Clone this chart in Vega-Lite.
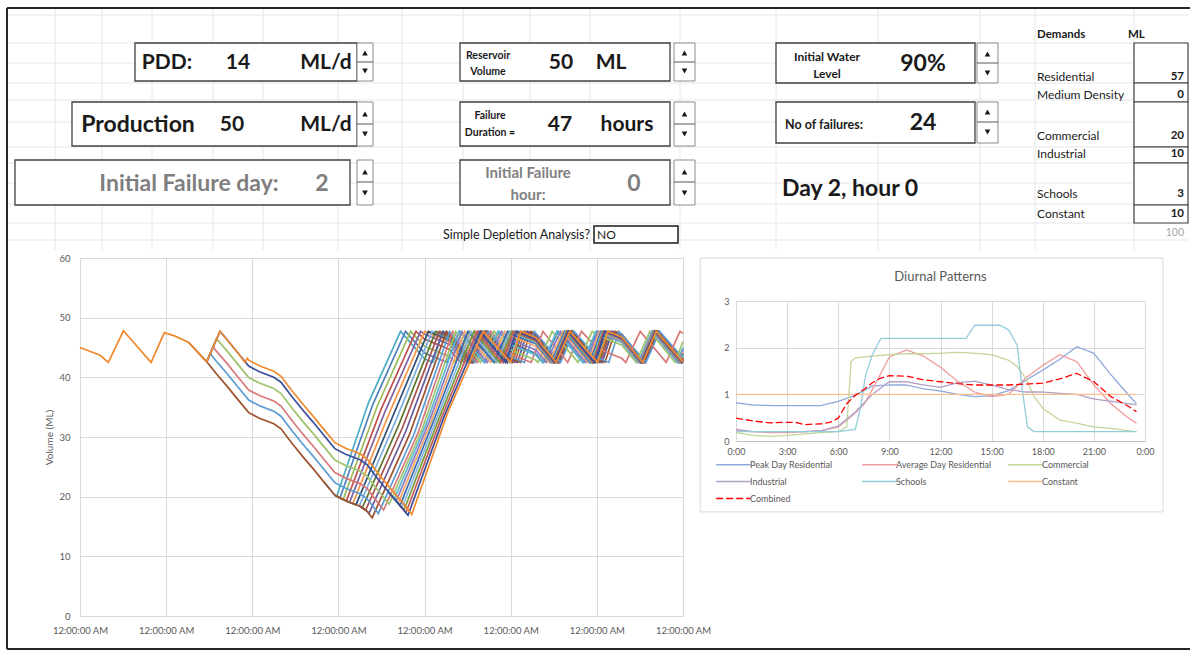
{
"$schema":"https://vega.github.io/schema/vega-lite/v6.json",
"padding":0,
"background":"white",
"spacing":0,
"bounds":"flush",
"resolve":{"scale":{"color":"independent","strokeDash":"independent","strokeWidth":"independent","shape":"independent"},"legend":{"color":"independent","strokeDash":"independent","strokeWidth":"independent","shape":"independent"}},
"config":{"font":"Lato","view":{"stroke":null}},
"datasets":{
"sheet":[{"x":8,"x2":1188,"y":15,"y2":15},{"x":8,"x2":1188,"y":43,"y2":43},{"x":8,"x2":1188,"y":63,"y2":63},{"x":8,"x2":1188,"y":83,"y2":83},{"x":8,"x2":1188,"y":100,"y2":100},{"x":8,"x2":1188,"y":122,"y2":122},{"x":8,"x2":1188,"y":147,"y2":147},{"x":8,"x2":1188,"y":163,"y2":163},{"x":8,"x2":1188,"y":183,"y2":183},{"x":8,"x2":1188,"y":204,"y2":204},{"x":8,"x2":1188,"y":223,"y2":223},{"x":8,"x2":1188,"y":240,"y2":240},
{"x":55,"x2":55,"y":8,"y2":250},{"x":102,"x2":102,"y":8,"y2":250},{"x":152,"x2":152,"y":8,"y2":250},{"x":213,"x2":213,"y":8,"y2":250},{"x":263,"x2":263,"y":8,"y2":250},{"x":338,"x2":338,"y":8,"y2":250},{"x":402,"x2":402,"y":8,"y2":250},{"x":463,"x2":463,"y":8,"y2":250},{"x":530,"x2":530,"y":8,"y2":250},{"x":590,"x2":590,"y":8,"y2":250},{"x":680,"x2":680,"y":8,"y2":250},{"x":776,"x2":776,"y":8,"y2":250},{"x":878,"x2":878,"y":8,"y2":250},{"x":980,"x2":980,"y":8,"y2":250},{"x":1035,"x2":1035,"y":8,"y2":250},{"x":1134,"x2":1134,"y":8,"y2":250}],
"frame":[{"x":7,"x2":1190,"y":8,"y2":8},{"x":7,"x2":7,"y":8,"y2":649},{"x":7,"x2":1190,"y":649,"y2":649}],
"boxes":[{"x":135,"x2":357,"y":43,"y2":81},{"x":460,"x2":670,"y":43,"y2":81},{"x":776,"x2":975,"y":43,"y2":83},{"x":72,"x2":357,"y":102,"y2":146},{"x":460,"x2":670,"y":102,"y2":146},{"x":776,"x2":975,"y":102,"y2":143},{"x":15,"x2":350,"y":160,"y2":205},{"x":460,"x2":670,"y":160,"y2":205}],
"cells":[{"x":1134,"x2":1188,"y":43,"y2":83},{"x":1134,"x2":1188,"y":83,"y2":102},{"x":1134,"x2":1188,"y":102,"y2":147},{"x":1134,"x2":1188,"y":147,"y2":163},{"x":1134,"x2":1188,"y":163,"y2":205},{"x":1134,"x2":1188,"y":205,"y2":223}],
"box2":[{"x":594,"x2":678,"y":226,"y2":243}],
"spin":[{"x":357,"x2":373,"y":43,"y2":81},{"x":357,"x2":373,"y":102,"y2":146},{"x":357,"x2":373,"y":160,"y2":205},{"x":674,"x2":695,"y":43,"y2":81},{"x":674,"x2":695,"y":102,"y2":146},{"x":674,"x2":695,"y":160,"y2":205},{"x":977,"x2":998,"y":43,"y2":83},{"x":977,"x2":998,"y":102,"y2":143}],
"spindiv":[{"x":357,"x2":373,"y":62,"y2":62},{"x":357,"x2":373,"y":124,"y2":124},{"x":357,"x2":373,"y":182,"y2":182},{"x":674,"x2":695,"y":62,"y2":62},{"x":674,"x2":695,"y":124,"y2":124},{"x":674,"x2":695,"y":182,"y2":182},{"x":977,"x2":998,"y":63,"y2":63},{"x":977,"x2":998,"y":122,"y2":122}],
"arrows":[{"x":365,"y":53,"dir":"up"},{"x":365,"y":114,"dir":"up"},{"x":365,"y":172,"dir":"up"},{"x":684.5,"y":53,"dir":"up"},{"x":684.5,"y":114,"dir":"up"},{"x":684.5,"y":172,"dir":"up"},{"x":987.5,"y":54,"dir":"up"},{"x":987.5,"y":112,"dir":"up"},
{"x":365,"y":71,"dir":"down"},{"x":365,"y":134,"dir":"down"},{"x":365,"y":193,"dir":"down"},{"x":684.5,"y":71,"dir":"down"},{"x":684.5,"y":134,"dir":"down"},{"x":684.5,"y":193,"dir":"down"},{"x":987.5,"y":73,"dir":"down"},{"x":987.5,"y":132,"dir":"down"}],
"tBig":[{"x":167,"y":63,"text":"PDD:"},{"x":238,"y":63,"text":"14"},{"x":326,"y":63,"text":"ML/d"},{"x":561,"y":63,"text":"50"},{"x":611,"y":63,"text":"ML"},{"x":560,"y":125,"text":"47"},{"x":627,"y":125,"text":"hours"},{"x":232,"y":125,"text":"50"},{"x":326,"y":125,"text":"ML/d"}],
"tBig2":[{"x":138,"y":125,"text":"Production"},{"x":923,"y":64,"text":"90%"},{"x":923,"y":123,"text":"24"}],
"tSmall":[{"x":488,"y":56,"text":"Reservoir"},{"x":488,"y":72,"text":"Volume"},{"x":490,"y":116,"text":"Failure"},{"x":490,"y":133,"text":"Duration ="}],
"tSmall2":[{"x":827,"y":57,"text":"Initial Water"},{"x":827,"y":74,"text":"Level"}],
"tSmallL":[{"x":785,"y":125,"text":"No of failures:"}],
"tGray":[{"x":189,"y":184,"text":"Initial Failure day:"},{"x":322,"y":184,"text":"2"},{"x":634,"y":184,"text":"0"}],
"tGraySm":[{"x":528,"y":173,"text":"Initial Failure"},{"x":528,"y":195,"text":"hour:"}],
"tDay":[{"x":782,"y":189,"text":"Day 2, hour 0"}],
"tReg":[{"x":597,"y":235,"text":"NO"},{"x":1037,"y":77,"text":"Residential"},{"x":1037,"y":95,"text":"Medium Density"},{"x":1037,"y":136,"text":"Commercial"},{"x":1037,"y":154,"text":"Industrial"},{"x":1037,"y":194,"text":"Schools"},{"x":1037,"y":214,"text":"Constant"}],
"tRegR":[{"x":590,"y":235,"text":"Simple Depletion Analysis?"}],
"tHdr":[{"x":1037,"y":35,"text":"Demands"},{"x":1128,"y":35,"text":"ML"}],
"tVal":[{"x":1184,"y":77,"text":"57"},{"x":1184,"y":95,"text":"0"},{"x":1184,"y":136,"text":"20"},{"x":1184,"y":154,"text":"10"},{"x":1184,"y":194,"text":"3"},{"x":1184,"y":214,"text":"10"}],
"tTot":[{"x":1184,"y":233,"text":"100"}],
"vol":[
{"k":0,"t":68,"v":22.44},{"k":0,"t":71,"v":20.25},{"k":0,"t":71.5,"v":20.04},{"k":0,"t":80.4,"v":35.77},{"k":0,"t":89.31,"v":47.7},{"k":0,"t":96,"v":43.1},{"k":0,"t":98.32,"v":42.5},{"k":0,"t":101.13,"v":47.7},{"k":0,"t":103,"v":47.22},{"k":0,"t":109.38,"v":42.5},{"k":0,"t":113.16,"v":47.7},{"k":0,"t":120,"v":42.99},{"k":0,"t":121.87,"v":42.5},{"k":0,"t":124.68,"v":47.7},{"k":0,"t":127,"v":47.12},{"k":0,"t":133.24,"v":42.5},{"k":0,"t":137.02,"v":47.7},{"k":0,"t":144,"v":42.89},{"k":0,"t":145.46,"v":42.5},{"k":0,"t":148.28,"v":47.7},{"k":0,"t":151,"v":47.03},{"k":0,"t":157.12,"v":42.5},{"k":0,"t":160.9,"v":47.7},{"k":0,"t":168,"v":42.81},
{"k":1,"t":71,"v":20.25},{"k":1,"t":72.4,"v":19.73},{"k":1,"t":81.54,"v":35.39},{"k":1,"t":90.68,"v":47.7},{"k":1,"t":96,"v":44.08},{"k":1,"t":102.24,"v":42.5},{"k":1,"t":105.77,"v":47.7},{"k":1,"t":112.81,"v":42.5},{"k":1,"t":116.74,"v":47.7},{"k":1,"t":120,"v":45.73},{"k":1,"t":127,"v":43.99},{"k":1,"t":129.21,"v":42.5},{"k":1,"t":133.21,"v":47.7},{"k":1,"t":140.36,"v":42.5},{"k":1,"t":143.94,"v":47.7},{"k":1,"t":151,"v":45.94},{"k":1,"t":155.66,"v":42.5},{"k":1,"t":159.49,"v":47.7},{"k":1,"t":166.58,"v":42.5},{"k":1,"t":168,"v":44.8},
{"k":2,"t":71,"v":20.25},{"k":2,"t":73.3,"v":19.48},{"k":2,"t":82.7,"v":34.99},{"k":2,"t":92.11,"v":47.7},{"k":2,"t":96,"v":45.19},{"k":2,"t":103,"v":43.45},{"k":2,"t":104.53,"v":42.5},{"k":2,"t":108.54,"v":47.7},{"k":2,"t":115.75,"v":42.5},{"k":2,"t":119.49,"v":47.7},{"k":2,"t":127,"v":45.75},{"k":2,"t":131.42,"v":42.5},{"k":2,"t":135.26,"v":47.7},{"k":2,"t":142.29,"v":42.5},{"k":2,"t":145.36,"v":47.7},{"k":2,"t":151,"v":46.33},{"k":2,"t":156.17,"v":42.5},{"k":2,"t":159.97,"v":47.7},{"k":2,"t":167.18,"v":42.5},{"k":2,"t":168,"v":43.9},
{"k":3,"t":71,"v":20.25},{"k":3,"t":74.2,"v":19.26},{"k":3,"t":83.9,"v":34.68},{"k":3,"t":93.59,"v":47.7},{"k":3,"t":96,"v":46.4},{"k":3,"t":103,"v":44.66},{"k":3,"t":106.04,"v":42.5},{"k":3,"t":109.97,"v":47.7},{"k":3,"t":117.01,"v":42.5},{"k":3,"t":120.4,"v":47.7},{"k":3,"t":127,"v":46.07},{"k":3,"t":131.83,"v":42.5},{"k":3,"t":135.65,"v":47.7},{"k":3,"t":142.78,"v":42.5},{"k":3,"t":145.76,"v":47.7},{"k":3,"t":151,"v":46.43},{"k":3,"t":156.31,"v":42.5},{"k":3,"t":160.11,"v":47.7},{"k":3,"t":167.46,"v":42.5},{"k":3,"t":168,"v":43.4},
{"k":4,"t":74,"v":19.31},{"k":4,"t":75.1,"v":19.05},{"k":4,"t":85,"v":34.29},{"k":4,"t":94.89,"v":47.7},{"k":4,"t":96,"v":47.23},{"k":4,"t":103,"v":45.49},{"k":4,"t":107.08,"v":42.5},{"k":4,"t":110.94,"v":47.7},{"k":4,"t":117.9,"v":42.5},{"k":4,"t":121.06,"v":47.7},{"k":4,"t":127,"v":46.26},{"k":4,"t":132.07,"v":42.5},{"k":4,"t":135.88,"v":47.7},{"k":4,"t":143.07,"v":42.5},{"k":4,"t":146.01,"v":47.7},{"k":4,"t":151,"v":46.49},{"k":4,"t":156.4,"v":42.5},{"k":4,"t":160.2,"v":47.7},{"k":4,"t":167.66,"v":42.5},{"k":4,"t":168,"v":43.07},
{"k":5,"t":74,"v":19.31},{"k":5,"t":76,"v":18.83},{"k":5,"t":86,"v":33.76},{"k":5,"t":96.02,"v":47.7},{"k":5,"t":103,"v":45.96},{"k":5,"t":107.7,"v":42.5},{"k":5,"t":111.53,"v":47.7},{"k":5,"t":118.63,"v":42.5},{"k":5,"t":121.64,"v":47.7},{"k":5,"t":127,"v":46.4},{"k":5,"t":132.27,"v":42.5},{"k":5,"t":136.07,"v":47.7},{"k":5,"t":143.37,"v":42.5},{"k":5,"t":146.28,"v":47.7},{"k":5,"t":151,"v":46.56},{"k":5,"t":156.48,"v":42.5},{"k":5,"t":160.28,"v":47.7},{"k":5,"t":167.83,"v":42.5},{"k":5,"t":168,"v":42.8},
{"k":6,"t":74,"v":19.31},{"k":6,"t":76.9,"v":18.63},{"k":6,"t":87,"v":33.27},{"k":6,"t":97.06,"v":47.7},{"k":6,"t":103,"v":46.26},{"k":6,"t":108.07,"v":42.5},{"k":6,"t":111.88,"v":47.7},{"k":6,"t":119.07,"v":42.5},{"k":6,"t":122.01,"v":47.7},{"k":6,"t":127,"v":46.49},{"k":6,"t":132.4,"v":42.5},{"k":6,"t":136.2,"v":47.7},{"k":6,"t":143.66,"v":42.5},{"k":6,"t":146.55,"v":47.7},{"k":6,"t":151,"v":46.62},{"k":6,"t":156.57,"v":42.5},{"k":6,"t":160.37,"v":47.7},{"k":6,"t":168,"v":42.5},
{"k":7,"t":74,"v":19.31},{"k":7,"t":77.8,"v":18.43},{"k":7,"t":87.94,"v":32.69},{"k":7,"t":98.08,"v":47.7},{"k":7,"t":103,"v":46.51},{"k":7,"t":108.42,"v":42.5},{"k":7,"t":112.22,"v":47.7},{"k":7,"t":119.7,"v":42.5},{"k":7,"t":122.59,"v":47.7},{"k":7,"t":127,"v":46.63},{"k":7,"t":132.59,"v":42.5},{"k":7,"t":136.39,"v":47.7},{"k":7,"t":144.07,"v":42.5},{"k":7,"t":146.92,"v":47.7},{"k":7,"t":151,"v":46.71},{"k":7,"t":156.69,"v":42.5},{"k":7,"t":160.49,"v":47.7},{"k":7,"t":168,"v":42.52},
{"k":8,"t":78,"v":18.39},{"k":8,"t":78.7,"v":18.19},{"k":8,"t":88.9,"v":32.15},{"k":8,"t":99.1,"v":47.7},{"k":8,"t":103,"v":46.75},{"k":8,"t":108.75,"v":42.5},{"k":8,"t":112.54,"v":47.7},{"k":8,"t":120.4,"v":42.5},{"k":8,"t":123.24,"v":47.7},{"k":8,"t":127,"v":46.79},{"k":8,"t":132.8,"v":42.5},{"k":8,"t":136.59,"v":47.7},{"k":8,"t":144.51,"v":42.5},{"k":8,"t":147.35,"v":47.7},{"k":8,"t":151,"v":46.81},{"k":8,"t":156.83,"v":42.5},{"k":8,"t":160.62,"v":47.7},{"k":8,"t":168,"v":42.61},
{"k":9,"t":78,"v":18.39},{"k":9,"t":79.6,"v":17.77},{"k":9,"t":89.86,"v":31.59},{"k":9,"t":100.12,"v":47.7},{"k":9,"t":103,"v":47},{"k":9,"t":109.08,"v":42.5},{"k":9,"t":112.86,"v":47.7},{"k":9,"t":120,"v":42.78},{"k":9,"t":121.09,"v":42.5},{"k":9,"t":123.92,"v":47.7},{"k":9,"t":127,"v":46.95},{"k":9,"t":133.01,"v":42.5},{"k":9,"t":136.79,"v":47.7},{"k":9,"t":144,"v":42.73},{"k":9,"t":144.94,"v":42.5},{"k":9,"t":147.77,"v":47.7},{"k":9,"t":151,"v":46.91},{"k":9,"t":156.97,"v":42.5},{"k":9,"t":160.75,"v":47.7},{"k":9,"t":168,"v":42.71},
{"k":10,"t":78,"v":18.39},{"k":10,"t":80,"v":17.55},{"k":10,"t":80.5,"v":17.17},{"k":10,"t":90.8,"v":31},{"k":10,"t":101.12,"v":47.7},{"k":10,"t":103,"v":47.22},{"k":10,"t":109.38,"v":42.5},{"k":10,"t":113.16,"v":47.7},{"k":10,"t":120,"v":42.99},{"k":10,"t":121.87,"v":42.5},{"k":10,"t":124.68,"v":47.7},{"k":10,"t":127,"v":47.12},{"k":10,"t":133.24,"v":42.5},{"k":10,"t":137.02,"v":47.7},{"k":10,"t":144,"v":42.89},{"k":10,"t":145.46,"v":42.5},{"k":10,"t":148.28,"v":47.7},{"k":10,"t":151,"v":47.03},{"k":10,"t":157.12,"v":42.5},{"k":10,"t":160.9,"v":47.7},{"k":10,"t":168,"v":42.81},
{"k":11,"t":30.2,"v":45.9},{"k":11,"t":35.3,"v":42.6},{"k":11,"t":38,"v":40.59},{"k":11,"t":41,"v":38.49},{"k":11,"t":44,"v":36.27},{"k":11,"t":47,"v":34.08},{"k":11,"t":50,"v":33.14},{"k":11,"t":54,"v":32.22},{"k":11,"t":56,"v":31.38},{"k":11,"t":59,"v":29},{"k":11,"t":62,"v":26.76},{"k":11,"t":65,"v":24.66},{"k":11,"t":68,"v":22.44},{"k":11,"t":71,"v":20.25},{"k":11,"t":74,"v":19.31},{"k":11,"t":78,"v":18.39},{"k":11,"t":80,"v":17.55},{"k":11,"t":81.4,"v":16.46},{"k":11,"t":91.77,"v":30.39},{"k":11,"t":102.13,"v":47.7},{"k":11,"t":109.69,"v":42.5},{"k":11,"t":113.46,"v":47.7},{"k":11,"t":120,"v":43.21},{"k":11,"t":122.76,"v":42.5},{"k":11,"t":125.56,"v":47.7},{"k":11,"t":127,"v":47.31},{"k":11,"t":133.51,"v":42.5},{"k":11,"t":137.29,"v":47.7},{"k":11,"t":144,"v":43.09},{"k":11,"t":146.26,"v":42.5},{"k":11,"t":149.07,"v":47.7},{"k":11,"t":151,"v":47.21},{"k":11,"t":157.36,"v":42.5},{"k":11,"t":161.14,"v":47.7},{"k":11,"t":168,"v":42.98},
{"k":12,"t":35.3,"v":42.6},{"k":12,"t":36.27,"v":43.96},{"k":12,"t":38,"v":42.69},{"k":12,"t":41,"v":40.59},{"k":12,"t":44,"v":38.37},{"k":12,"t":47,"v":36.18},{"k":12,"t":50,"v":35.24},{"k":12,"t":54,"v":34.32},{"k":12,"t":56,"v":33.48},{"k":12,"t":59,"v":31.1},{"k":12,"t":62,"v":28.86},{"k":12,"t":65,"v":26.76},{"k":12,"t":68,"v":24.54},{"k":12,"t":71,"v":22.35},{"k":12,"t":74,"v":21.41},{"k":12,"t":78,"v":20.49},{"k":12,"t":80,"v":19.65},{"k":12,"t":83.13,"v":17.17},{"k":12,"t":93.06,"v":30.5},{"k":12,"t":102.98,"v":47.7},{"k":12,"t":110.03,"v":42.5},{"k":12,"t":113.8,"v":47.7},{"k":12,"t":120,"v":43.45},{"k":12,"t":123.77,"v":42.5},{"k":12,"t":126.59,"v":47.7},{"k":12,"t":133.88,"v":42.5},{"k":12,"t":137.65,"v":47.7},{"k":12,"t":144,"v":43.34},{"k":12,"t":147.32,"v":42.5},{"k":12,"t":150.13,"v":47.7},{"k":12,"t":157.69,"v":42.5},{"k":12,"t":161.46,"v":47.7},{"k":12,"t":168,"v":43.21},
{"k":13,"t":35.3,"v":42.6},{"k":13,"t":37.05,"v":45.06},{"k":13,"t":38,"v":44.39},{"k":13,"t":41,"v":42.29},{"k":13,"t":44,"v":40.07},{"k":13,"t":47,"v":37.88},{"k":13,"t":50,"v":36.94},{"k":13,"t":54,"v":36.02},{"k":13,"t":56,"v":35.18},{"k":13,"t":59,"v":32.8},{"k":13,"t":62,"v":30.56},{"k":13,"t":65,"v":28.46},{"k":13,"t":68,"v":26.24},{"k":13,"t":71,"v":24.05},{"k":13,"t":74,"v":23.11},{"k":13,"t":78,"v":22.19},{"k":13,"t":80,"v":21.35},{"k":13,"t":83,"v":18.97},{"k":13,"t":84.58,"v":17.77},{"k":13,"t":94.2,"v":30.72},{"k":13,"t":103.83,"v":47.7},{"k":13,"t":110.7,"v":42.5},{"k":13,"t":114.48,"v":47.7},{"k":13,"t":120,"v":43.94},{"k":13,"t":125.68,"v":42.5},{"k":13,"t":128.98,"v":47.7},{"k":13,"t":135.89,"v":42.5},{"k":13,"t":139.73,"v":47.7},{"k":13,"t":144,"v":44.89},{"k":13,"t":151,"v":43.15},{"k":13,"t":152.06,"v":42.5},{"k":13,"t":156.07,"v":47.7},{"k":13,"t":163.32,"v":42.5},{"k":13,"t":167.15,"v":47.7},{"k":13,"t":168,"v":47.35},
{"k":14,"t":35.3,"v":42.6},{"k":14,"t":38.01,"v":46.48},{"k":14,"t":41,"v":44.39},{"k":14,"t":44,"v":42.17},{"k":14,"t":47,"v":39.98},{"k":14,"t":50,"v":39.04},{"k":14,"t":54,"v":38.12},{"k":14,"t":56,"v":37.28},{"k":14,"t":59,"v":34.9},{"k":14,"t":62,"v":32.66},{"k":14,"t":65,"v":30.56},{"k":14,"t":68,"v":28.34},{"k":14,"t":71,"v":26.15},{"k":14,"t":74,"v":25.21},{"k":14,"t":78,"v":24.29},{"k":14,"t":80,"v":23.45},{"k":14,"t":83,"v":21.07},{"k":14,"t":86.14,"v":18.73},{"k":14,"t":95.41,"v":31.46},{"k":14,"t":104.68,"v":47.7},{"k":14,"t":111.56,"v":42.5},{"k":14,"t":115.37,"v":47.7},{"k":14,"t":120,"v":44.6},{"k":14,"t":127,"v":42.86},{"k":14,"t":127.6,"v":42.5},{"k":14,"t":131.54,"v":47.7},{"k":14,"t":138.77,"v":42.5},{"k":14,"t":142.69,"v":47.7},{"k":14,"t":144,"v":47.11},{"k":14,"t":151,"v":45.37},{"k":14,"t":154.93,"v":42.5},{"k":14,"t":158.79,"v":47.7},{"k":14,"t":165.77,"v":42.5},{"k":14,"t":168,"v":45.98},
{"k":15,"t":86,"v":20.73},{"k":15,"t":87.59,"v":19.62},{"k":15,"t":96.56,"v":32.34},{"k":15,"t":105.53,"v":47.7},{"k":15,"t":112.53,"v":42.5},{"k":15,"t":116.43,"v":47.7},{"k":15,"t":120,"v":45.47},{"k":15,"t":127,"v":43.73},{"k":15,"t":128.87,"v":42.5},{"k":15,"t":132.87,"v":47.7},{"k":15,"t":140.06,"v":42.5},{"k":15,"t":143.72,"v":47.7},{"k":15,"t":151,"v":45.84},{"k":15,"t":155.54,"v":42.5},{"k":15,"t":159.38,"v":47.7},{"k":15,"t":166.44,"v":42.5},{"k":15,"t":168,"v":45.01},
{"k":16,"t":86,"v":20.73},{"k":16,"t":88.1,"v":19.26},{"k":16,"t":97.24,"v":32.5},{"k":16,"t":106.38,"v":47.7},{"k":16,"t":113.51,"v":42.5},{"k":16,"t":117.48,"v":47.7},{"k":16,"t":120,"v":46.31},{"k":16,"t":127,"v":44.57},{"k":16,"t":129.94,"v":42.5},{"k":16,"t":133.87,"v":47.7},{"k":16,"t":140.93,"v":42.5},{"k":16,"t":144.34,"v":47.7},{"k":16,"t":151,"v":46.06},{"k":16,"t":155.81,"v":42.5},{"k":16,"t":159.64,"v":47.7},{"k":16,"t":166.77,"v":42.5},{"k":16,"t":168,"v":44.52},
{"k":17,"t":86,"v":20.73},{"k":17,"t":88.63,"v":18.89},{"k":17,"t":97.93,"v":32.67},{"k":17,"t":107.23,"v":47.7},{"k":17,"t":114.45,"v":42.5},{"k":17,"t":118.39,"v":47.7},{"k":17,"t":120,"v":46.94},{"k":17,"t":127,"v":45.2},{"k":17,"t":130.71,"v":42.5},{"k":17,"t":134.59,"v":47.7},{"k":17,"t":141.58,"v":42.5},{"k":17,"t":144.82,"v":47.7},{"k":17,"t":151,"v":46.19},{"k":17,"t":155.99,"v":42.5},{"k":17,"t":159.8,"v":47.7},{"k":17,"t":166.97,"v":42.5},{"k":17,"t":168,"v":44.22},
{"k":18,"t":86,"v":20.73},{"k":18,"t":89.17,"v":18.51},{"k":18,"t":98.63,"v":32.84},{"k":18,"t":108.08,"v":47.7},{"k":18,"t":115.33,"v":42.5},{"k":18,"t":119.16,"v":47.7},{"k":18,"t":120,"v":47.36},{"k":18,"t":127,"v":45.62},{"k":18,"t":131.24,"v":42.5},{"k":18,"t":135.09,"v":47.7},{"k":18,"t":142.07,"v":42.5},{"k":18,"t":145.19,"v":47.7},{"k":18,"t":151,"v":46.29},{"k":18,"t":156.11,"v":42.5},{"k":18,"t":159.92,"v":47.7},{"k":18,"t":167.12,"v":42.5},{"k":18,"t":168,"v":43.97},
{"k":19,"t":86,"v":20.73},{"k":19,"t":89,"v":18.63},{"k":19,"t":89.72,"v":18.12},{"k":19,"t":99.33,"v":32.98},{"k":19,"t":108.93,"v":47.7},{"k":19,"t":116.11,"v":42.5},{"k":19,"t":119.76,"v":47.7},{"k":19,"t":127,"v":45.86},{"k":19,"t":131.56,"v":42.5},{"k":19,"t":135.39,"v":47.7},{"k":19,"t":142.45,"v":42.5},{"k":19,"t":145.49,"v":47.7},{"k":19,"t":151,"v":46.36},{"k":19,"t":156.22,"v":42.5},{"k":19,"t":160.02,"v":47.7},{"k":19,"t":167.26,"v":42.5},{"k":19,"t":168,"v":43.74},
{"k":20,"t":86,"v":20.73},{"k":20,"t":89,"v":18.63},{"k":20,"t":90.26,"v":17.73},{"k":20,"t":100.02,"v":33.12},{"k":20,"t":109.78,"v":47.7},{"k":20,"t":116.85,"v":42.5},{"k":20,"t":120.28,"v":47.7},{"k":20,"t":127,"v":46.04},{"k":20,"t":131.79,"v":42.5},{"k":20,"t":135.62,"v":47.7},{"k":20,"t":142.74,"v":42.5},{"k":20,"t":145.73,"v":47.7},{"k":20,"t":151,"v":46.42},{"k":20,"t":156.3,"v":42.5},{"k":20,"t":160.1,"v":47.7},{"k":20,"t":167.44,"v":42.5},{"k":20,"t":168,"v":43.44},
{"k":21,"t":89,"v":18.63},{"k":21,"t":90.83,"v":17.32},{"k":21,"t":100.73,"v":33.26},{"k":21,"t":110.63,"v":47.7},{"k":21,"t":117.62,"v":42.5},{"k":21,"t":120.85,"v":47.7},{"k":21,"t":127,"v":46.2},{"k":21,"t":132,"v":42.5},{"k":21,"t":135.81,"v":47.7},{"k":21,"t":142.98,"v":42.5},{"k":21,"t":145.92,"v":47.7},{"k":21,"t":151,"v":46.47},{"k":21,"t":156.36,"v":42.5},{"k":21,"t":160.16,"v":47.7},{"k":21,"t":167.57,"v":42.5},{"k":21,"t":168,"v":43.22},
{"k":22,"t":35.3,"v":42.6},{"k":22,"t":39,"v":47.7},{"k":22,"t":41,"v":46.29},{"k":22,"t":44,"v":44.07},{"k":22,"t":47,"v":41.88},{"k":22,"t":50,"v":40.94},{"k":22,"t":54,"v":40.02},{"k":22,"t":56,"v":39.18},{"k":22,"t":59,"v":36.8},{"k":22,"t":62,"v":34.56},{"k":22,"t":65,"v":32.46},{"k":22,"t":68,"v":30.24},{"k":22,"t":71,"v":28.05},{"k":22,"t":74,"v":27.11},{"k":22,"t":78,"v":26.19},{"k":22,"t":80,"v":25.35},{"k":22,"t":83,"v":22.97},{"k":22,"t":86,"v":20.73},{"k":22,"t":89,"v":18.63},{"k":22,"t":91.39,"v":16.89},{"k":22,"t":101.44,"v":33.42},{"k":22,"t":111.48,"v":47.7},{"k":22,"t":118.56,"v":42.5},{"k":22,"t":121.58,"v":47.7},{"k":22,"t":127,"v":46.39},{"k":22,"t":132.25,"v":42.5},{"k":22,"t":136.05,"v":47.7},{"k":22,"t":143.33,"v":42.5},{"k":22,"t":146.24,"v":47.7},{"k":22,"t":151,"v":46.55},{"k":22,"t":156.47,"v":42.5},{"k":22,"t":160.27,"v":47.7},{"k":22,"t":167.81,"v":42.5},{"k":22,"t":168,"v":42.8},
{"k":23,"t":0,"v":45},{"k":23,"t":5.6,"v":43.7},{"k":23,"t":7.9,"v":42.5},{"k":23,"t":12.1,"v":47.8},{"k":23,"t":19.8,"v":42.5},{"k":23,"t":23.5,"v":47.5},{"k":23,"t":26.5,"v":46.9},{"k":23,"t":30.2,"v":45.9},{"k":23,"t":35.3,"v":42.6},{"k":23,"t":39,"v":47.7},{"k":23,"t":41,"v":46.29},{"k":23,"t":44,"v":44.07},{"k":23,"t":45.95,"v":42.5},{"k":23,"t":46.6,"v":43.2},{"k":23,"t":47,"v":42.88},{"k":23,"t":50,"v":41.94},{"k":23,"t":54,"v":41.02},{"k":23,"t":56,"v":40.18},{"k":23,"t":59,"v":37.8},{"k":23,"t":62,"v":35.56},{"k":23,"t":65,"v":33.46},{"k":23,"t":68,"v":31.24},{"k":23,"t":71,"v":29.05},{"k":23,"t":74,"v":28.11},{"k":23,"t":78,"v":27.19},{"k":23,"t":80,"v":26.35},{"k":23,"t":83,"v":23.97},{"k":23,"t":86,"v":21.73},{"k":23,"t":89,"v":19.63},{"k":23,"t":92,"v":17.41},{"k":23,"t":92.44,"v":17.04},{"k":23,"t":102.39,"v":33.98},{"k":23,"t":112.33,"v":47.7},{"k":23,"t":119.94,"v":42.5},{"k":23,"t":122.8,"v":47.7},{"k":23,"t":127,"v":46.68},{"k":23,"t":132.65,"v":42.5},{"k":23,"t":136.45,"v":47.7},{"k":23,"t":144.2,"v":42.5},{"k":23,"t":147.05,"v":47.7},{"k":23,"t":151,"v":46.74},{"k":23,"t":156.74,"v":42.5},{"k":23,"t":160.53,"v":47.7},{"k":23,"t":168,"v":42.55}
],
"diurnal":[
{"s":"Peak Day Residential","h":0,"v":0.82},{"s":"Peak Day Residential","h":1,"v":0.77},{"s":"Peak Day Residential","h":2,"v":0.76},{"s":"Peak Day Residential","h":3,"v":0.76},{"s":"Peak Day Residential","h":4,"v":0.76},{"s":"Peak Day Residential","h":5,"v":0.76},{"s":"Peak Day Residential","h":6,"v":0.85},{"s":"Peak Day Residential","h":7,"v":0.98},{"s":"Peak Day Residential","h":8,"v":1.18},{"s":"Peak Day Residential","h":9,"v":1.2},{"s":"Peak Day Residential","h":10,"v":1.2},{"s":"Peak Day Residential","h":11,"v":1.12},{"s":"Peak Day Residential","h":12,"v":1.07},{"s":"Peak Day Residential","h":13,"v":1.0},{"s":"Peak Day Residential","h":14,"v":0.95},{"s":"Peak Day Residential","h":15,"v":0.97},{"s":"Peak Day Residential","h":16,"v":1.08},{"s":"Peak Day Residential","h":17,"v":1.3},{"s":"Peak Day Residential","h":18,"v":1.52},{"s":"Peak Day Residential","h":19,"v":1.75},{"s":"Peak Day Residential","h":20,"v":2.02},{"s":"Peak Day Residential","h":21,"v":1.88},{"s":"Peak Day Residential","h":22,"v":1.42},{"s":"Peak Day Residential","h":23,"v":1.0},{"s":"Peak Day Residential","h":23.5,"v":0.8},
{"s":"Average Day Residential","h":0,"v":0.22},{"s":"Average Day Residential","h":1,"v":0.2},{"s":"Average Day Residential","h":2,"v":0.18},{"s":"Average Day Residential","h":3,"v":0.18},{"s":"Average Day Residential","h":4,"v":0.2},{"s":"Average Day Residential","h":5,"v":0.22},{"s":"Average Day Residential","h":6,"v":0.3},{"s":"Average Day Residential","h":7,"v":0.6},{"s":"Average Day Residential","h":7.5,"v":0.78},{"s":"Average Day Residential","h":8,"v":1.1},{"s":"Average Day Residential","h":8.5,"v":1.45},{"s":"Average Day Residential","h":9,"v":1.8},{"s":"Average Day Residential","h":9.5,"v":1.88},{"s":"Average Day Residential","h":10,"v":1.95},{"s":"Average Day Residential","h":11,"v":1.82},{"s":"Average Day Residential","h":12,"v":1.58},{"s":"Average Day Residential","h":13,"v":1.28},{"s":"Average Day Residential","h":14,"v":1.05},{"s":"Average Day Residential","h":15,"v":0.95},{"s":"Average Day Residential","h":16,"v":1.0},{"s":"Average Day Residential","h":17,"v":1.35},{"s":"Average Day Residential","h":18,"v":1.62},{"s":"Average Day Residential","h":19,"v":1.85},{"s":"Average Day Residential","h":20,"v":1.7},{"s":"Average Day Residential","h":21,"v":1.2},{"s":"Average Day Residential","h":22,"v":0.8},{"s":"Average Day Residential","h":23,"v":0.5},{"s":"Average Day Residential","h":23.5,"v":0.38},
{"s":"Commercial","h":0,"v":0.18},{"s":"Commercial","h":1,"v":0.12},{"s":"Commercial","h":2,"v":0.1},{"s":"Commercial","h":3,"v":0.12},{"s":"Commercial","h":4,"v":0.15},{"s":"Commercial","h":5,"v":0.18},{"s":"Commercial","h":6,"v":0.2},{"s":"Commercial","h":6.5,"v":0.3},{"s":"Commercial","h":6.75,"v":1.7},{"s":"Commercial","h":7,"v":1.78},{"s":"Commercial","h":8,"v":1.82},{"s":"Commercial","h":9,"v":1.85},{"s":"Commercial","h":10,"v":1.87},{"s":"Commercial","h":11,"v":1.87},{"s":"Commercial","h":12,"v":1.88},{"s":"Commercial","h":13,"v":1.9},{"s":"Commercial","h":14,"v":1.88},{"s":"Commercial","h":15,"v":1.85},{"s":"Commercial","h":16,"v":1.73},{"s":"Commercial","h":16.5,"v":1.6},{"s":"Commercial","h":17,"v":1.35},{"s":"Commercial","h":17.5,"v":0.95},{"s":"Commercial","h":18,"v":0.7},{"s":"Commercial","h":19,"v":0.45},{"s":"Commercial","h":20,"v":0.38},{"s":"Commercial","h":21,"v":0.3},{"s":"Commercial","h":22,"v":0.27},{"s":"Commercial","h":23,"v":0.22},{"s":"Commercial","h":23.5,"v":0.2},
{"s":"Industrial","h":0,"v":0.25},{"s":"Industrial","h":1,"v":0.2},{"s":"Industrial","h":2,"v":0.2},{"s":"Industrial","h":3,"v":0.2},{"s":"Industrial","h":4,"v":0.2},{"s":"Industrial","h":5,"v":0.22},{"s":"Industrial","h":6,"v":0.32},{"s":"Industrial","h":7,"v":0.62},{"s":"Industrial","h":8,"v":1.0},{"s":"Industrial","h":9,"v":1.27},{"s":"Industrial","h":10,"v":1.27},{"s":"Industrial","h":11,"v":1.2},{"s":"Industrial","h":12,"v":1.15},{"s":"Industrial","h":13,"v":1.25},{"s":"Industrial","h":14,"v":1.28},{"s":"Industrial","h":15,"v":1.2},{"s":"Industrial","h":16,"v":1.1},{"s":"Industrial","h":17,"v":1.05},{"s":"Industrial","h":18,"v":1.05},{"s":"Industrial","h":19,"v":1.02},{"s":"Industrial","h":20,"v":1.0},{"s":"Industrial","h":21,"v":0.9},{"s":"Industrial","h":22,"v":0.85},{"s":"Industrial","h":23,"v":0.8},{"s":"Industrial","h":23.5,"v":0.78},
{"s":"Schools","h":0,"v":0.2},{"s":"Schools","h":3,"v":0.2},{"s":"Schools","h":6,"v":0.2},{"s":"Schools","h":7,"v":0.25},{"s":"Schools","h":7.3,"v":0.7},{"s":"Schools","h":7.6,"v":1.4},{"s":"Schools","h":8,"v":1.85},{"s":"Schools","h":8.5,"v":2.2},{"s":"Schools","h":10,"v":2.2},{"s":"Schools","h":12,"v":2.2},{"s":"Schools","h":13.5,"v":2.2},{"s":"Schools","h":14,"v":2.48},{"s":"Schools","h":15,"v":2.48},{"s":"Schools","h":15.5,"v":2.48},{"s":"Schools","h":16,"v":2.38},{"s":"Schools","h":16.5,"v":2.05},{"s":"Schools","h":16.8,"v":1.1},{"s":"Schools","h":17.1,"v":0.3},{"s":"Schools","h":17.5,"v":0.2},{"s":"Schools","h":20,"v":0.2},{"s":"Schools","h":23.5,"v":0.2},
{"s":"Constant","h":0,"v":1},{"s":"Constant","h":6,"v":1},{"s":"Constant","h":12,"v":1},{"s":"Constant","h":18,"v":1},{"s":"Constant","h":23.5,"v":1},
{"s":"Combined","h":0,"v":0.49},{"s":"Combined","h":1,"v":0.43},{"s":"Combined","h":2,"v":0.39},{"s":"Combined","h":3,"v":0.4},{"s":"Combined","h":3.5,"v":0.4},{"s":"Combined","h":4,"v":0.35},{"s":"Combined","h":5,"v":0.37},{"s":"Combined","h":5.5,"v":0.4},{"s":"Combined","h":6,"v":0.49},{"s":"Combined","h":6.5,"v":0.8},{"s":"Combined","h":7,"v":0.98},{"s":"Combined","h":7.5,"v":1.1},{"s":"Combined","h":8,"v":1.25},{"s":"Combined","h":8.5,"v":1.35},{"s":"Combined","h":9,"v":1.4},{"s":"Combined","h":10,"v":1.39},{"s":"Combined","h":11,"v":1.31},{"s":"Combined","h":12,"v":1.27},{"s":"Combined","h":13,"v":1.23},{"s":"Combined","h":14,"v":1.2},{"s":"Combined","h":15,"v":1.2},{"s":"Combined","h":16,"v":1.2},{"s":"Combined","h":17,"v":1.22},{"s":"Combined","h":18,"v":1.24},{"s":"Combined","h":19,"v":1.33},{"s":"Combined","h":20,"v":1.45},{"s":"Combined","h":21,"v":1.27},{"s":"Combined","h":22,"v":0.95},{"s":"Combined","h":23,"v":0.75},{"s":"Combined","h":23.5,"v":0.63}
]
},
"vconcat":[
{
"width":1192,"height":258,
"encoding":{
"x":{"field":"x","type":"quantitative","scale":{"domain":[0,1192],"nice":false,"zero":false},"axis":null},
"y":{"field":"y","type":"quantitative","scale":{"domain":[0,258],"nice":false,"zero":false,"reverse":true},"axis":null}
},
"layer":[
{"data":{"name":"sheet"},"mark":{"type":"rule","color":"#e6e6e6","strokeWidth":1},"encoding":{"x2":{"field":"x2"},"y2":{"field":"y2"}}},
{"data":{"name":"frame"},"mark":{"type":"rule","color":"#262626","strokeWidth":2},"encoding":{"x2":{"field":"x2"},"y2":{"field":"y2"}}},
{"data":{"name":"boxes"},"mark":{"type":"rect","fill":"white","stroke":"#404040","strokeWidth":1.3},"encoding":{"x2":{"field":"x2"},"y2":{"field":"y2"}}},
{"data":{"name":"cells"},"mark":{"type":"rect","fill":"white","stroke":"#404040","strokeWidth":1.2},"encoding":{"x2":{"field":"x2"},"y2":{"field":"y2"}}},
{"data":{"name":"box2"},"mark":{"type":"rect","fill":"white","stroke":"#1a1a1a","strokeWidth":1.5},"encoding":{"x2":{"field":"x2"},"y2":{"field":"y2"}}},
{"data":{"name":"spin"},"mark":{"type":"rect","fill":"white","stroke":"#8c8c8c","strokeWidth":1},"encoding":{"x2":{"field":"x2"},"y2":{"field":"y2"}}},
{"data":{"name":"spindiv"},"mark":{"type":"rule","color":"#595959","strokeWidth":1},"encoding":{"x2":{"field":"x2"},"y2":{"field":"y2"}}},
{"data":{"name":"arrows"},"mark":{"type":"point","filled":true,"color":"#1a1a1a","size":32,"opacity":1},"encoding":{"shape":{"field":"dir","type":"nominal","scale":{"domain":["up","down"],"range":["triangle-up","triangle-down"]},"legend":null}}},
{"data":{"name":"tBig"},"mark":{"type":"text","fontWeight":"bold","fontSize":21,"align":"center","baseline":"middle","color":"#1a1a1a"},"encoding":{"text":{"field":"text"}}},
{"data":{"name":"tBig2"},"mark":{"type":"text","fontWeight":"bold","fontSize":23,"align":"center","baseline":"middle","color":"#1a1a1a"},"encoding":{"text":{"field":"text"}}},
{"data":{"name":"tSmall"},"mark":{"type":"text","fontWeight":"bold","fontSize":10.5,"align":"center","baseline":"middle","color":"#1a1a1a"},"encoding":{"text":{"field":"text"}}},
{"data":{"name":"tSmall2"},"mark":{"type":"text","fontWeight":"bold","fontSize":12,"align":"center","baseline":"middle","color":"#1a1a1a"},"encoding":{"text":{"field":"text"}}},
{"data":{"name":"tSmallL"},"mark":{"type":"text","fontWeight":"bold","fontSize":12.5,"align":"left","baseline":"middle","color":"#1a1a1a"},"encoding":{"text":{"field":"text"}}},
{"data":{"name":"tGray"},"mark":{"type":"text","fontWeight":"bold","fontSize":23,"align":"center","baseline":"middle","color":"#7f7f7f"},"encoding":{"text":{"field":"text"}}},
{"data":{"name":"tGraySm"},"mark":{"type":"text","fontWeight":"bold","fontSize":15,"align":"center","baseline":"middle","color":"#7f7f7f"},"encoding":{"text":{"field":"text"}}},
{"data":{"name":"tDay"},"mark":{"type":"text","fontWeight":"bold","fontSize":23,"align":"left","baseline":"middle","color":"#1a1a1a"},"encoding":{"text":{"field":"text"}}},
{"data":{"name":"tReg"},"mark":{"type":"text","fontSize":12,"align":"left","baseline":"middle","color":"#1a1a1a"},"encoding":{"text":{"field":"text"}}},
{"data":{"name":"tRegR"},"mark":{"type":"text","fontSize":12.5,"align":"right","baseline":"middle","color":"#1a1a1a"},"encoding":{"text":{"field":"text"}}},
{"data":{"name":"tHdr"},"mark":{"type":"text","fontWeight":"bold","fontSize":11.5,"align":"left","baseline":"middle","color":"#1a1a1a"},"encoding":{"text":{"field":"text"}}},
{"data":{"name":"tVal"},"mark":{"type":"text","fontWeight":"bold","fontSize":11.5,"align":"right","baseline":"middle","color":"#1a1a1a"},"encoding":{"text":{"field":"text"}}},
{"data":{"name":"tTot"},"mark":{"type":"text","fontSize":10.5,"align":"right","baseline":"middle","color":"#a6a6a6"},"encoding":{"text":{"field":"text"}}}
]
},
{
"spacing":0,
"bounds":"flush",
"resolve":{"scale":{"color":"independent","strokeDash":"independent","strokeWidth":"independent"},"legend":{"color":"independent","strokeDash":"independent","strokeWidth":"independent"}},
"hconcat":[
{"width":80,"height":10,"data":{"values":[]},"mark":"point"},
{
"width":603,"height":358,
"data":{"name":"vol"},
"mark":{"type":"line","strokeWidth":1.7},
"encoding":{
"x":{"field":"t","type":"quantitative","scale":{"domain":[0,168],"nice":false,"zero":false},"axis":{"values":[0,24,48,72,96,120,144,168],"labelExpr":"'12:00:00 AM'","title":null,"grid":true,"gridColor":"#d9d9d9","domainColor":"#d9d9d9","ticks":false,"labelFontSize":9.5,"labelColor":"#595959","labelPadding":9,"labelFlush":false,"labelOverlap":false}},
"y":{"field":"v","type":"quantitative","scale":{"domain":[0,60],"nice":false},"axis":{"values":[0,10,20,30,40,50,60],"title":"Volume (ML)","titleFontSize":10,"titleFontWeight":"normal","titleColor":"#595959","titlePadding":4,"grid":true,"gridColor":"#d9d9d9","domain":false,"ticks":false,"labelFontSize":9.5,"labelColor":"#595959","labelPadding":10}},
"color":{"field":"k","type":"nominal","scale":{"domain":[0,1,2,3,4,5,6,7,8,9,10,11,12,13,14,15,16,17,18,19,20,21,22,23],"range":["#4BACC6","#4F81BD","#9BBB59","#C0504D","#8064A2","#F79646","#2C4D75","#7CAFDD","#5F7530","#A5504D","#6A5A9A","#A0522D","#5B9BD5","#D9797A","#9DC36B","#5BB8D0","#8E7CC3","#F5A76B","#3A6BB0","#83B7E0","#7A9A3C","#C65B58","#3B4E9C","#F08A2E"]},"legend":null}
}
},
{"width":53,"height":10,"data":{"values":[]},"mark":"point"},
{
"spacing":0,
"bounds":"flush",
"vconcat":[
{"width":409,"height":43,"data":{"values":[]},"mark":"point"},
{
"width":409,"height":140,
"title":{"text":"Diurnal Patterns","frame":"group","anchor":"middle","offset":-26,"fontSize":13,"fontWeight":"normal","color":"#595959"},
"layer":[
{
"data":{"name":"diurnal"},
"mark":{"type":"line"},
"encoding":{
"x":{"field":"h","type":"quantitative","scale":{"domain":[0,24],"nice":false,"zero":false},"axis":{"values":[0,3,6,9,12,15,18,21,24],"labelExpr":"(datum.value % 24) + ':00'","title":null,"grid":true,"gridColor":"#d9d9d9","domainColor":"#bfbfbf","ticks":false,"labelFontSize":9,"labelColor":"#595959","labelPadding":6,"labelFlush":false,"labelOverlap":false}},
"y":{"field":"v","type":"quantitative","scale":{"domain":[0,3],"nice":false},"axis":{"values":[0,0.5,1,1.5,2,2.5,3],"title":null,"grid":true,"gridColor":"#d9d9d9","domain":false,"ticks":false,"labelFontSize":9,"labelColor":"#595959","labelPadding":7}},
"color":{"field":"s","type":"nominal","scale":{"domain":["Peak Day Residential","Average Day Residential","Commercial","Industrial","Schools","Constant","Combined"],"range":["#8EA9DB","#F19C9C","#C3D69B","#B1A0C7","#92CDDC","#FAC090","#FF0000"]},"legend":{"title":null,"orient":"none","legendX":-12,"legendY":197,"direction":"horizontal","columns":3,"gridAlign":"all","symbolType":"M-2,0H2","symbolSize":300,"labelFontSize":9,"labelColor":"#595959","columnPadding":13,"rowPadding":2,"labelOffset":7}},
"strokeDash":{"field":"s","type":"nominal","scale":{"domain":["Peak Day Residential","Average Day Residential","Commercial","Industrial","Schools","Constant","Combined"],"range":[[1,0],[1,0],[1,0],[1,0],[1,0],[1,0],[7,3]]}},
"strokeWidth":{"field":"s","type":"nominal","scale":{"domain":["Peak Day Residential","Average Day Residential","Commercial","Industrial","Schools","Constant","Combined"],"range":[1.3,1.3,1.3,1.3,1.3,1.3,3.2]}}
}
},
{
"data":{"values":[{"b":1}]},
"mark":{"type":"rect","fill":"white","fillOpacity":0,"stroke":"#d9d9d9","strokeWidth":1,"clip":false},
"encoding":{"x":{"datum":-2.1},"x2":{"datum":25.05},"y":{"datum":3.92},"y2":{"datum":-1.52}}
}
]
}
]
}
]
}
]
}
